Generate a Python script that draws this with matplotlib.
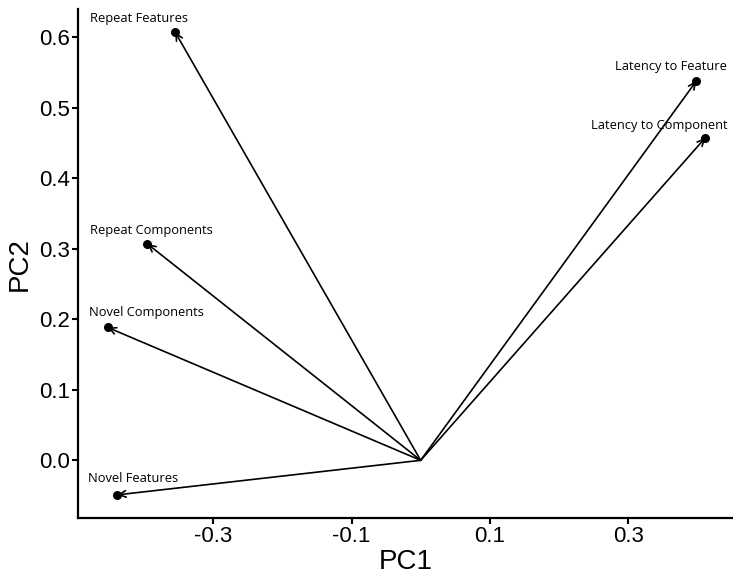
import matplotlib
matplotlib.use('Agg')
import matplotlib.pyplot as plt

# loadings
names = ["Repeat Features", "Latency to Feature", "Latency to Component",
         "Repeat Components", "Novel Components", "Novel Features"]
pc1 = [-0.355, 0.3985, 0.4115, -0.395, -0.4525, -0.4385]
pc2 = [0.6075, 0.538, 0.4575, 0.307, 0.1885, -0.049]

# label offsets in points (dx, dy) from each arrow tip
lab_off = [(-26, 10), (-18.5, 10.5), (-33, 9), (3, 10), (28, 10.5), (11.5, 12)]

fig = plt.figure(figsize=(7.33, 5.77), dpi=100)
ax = fig.add_axes([0.1064, 0.1023, 0.893, 0.8817])

for x, y in zip(pc1, pc2):
    ax.annotate("", xy=(x, y), xytext=(0, 0),
                arrowprops=dict(arrowstyle="->", color="black", lw=1.2,
                                shrinkA=0, shrinkB=0, mutation_scale=12))
ax.scatter(pc1, pc2, s=30, color="black", zorder=3)

for n, x, y, (dx, dy) in zip(names, pc1, pc2, lab_off):
    ax.annotate(n, xy=(x, y), xytext=(dx, dy), textcoords="offset points",
                ha="center", va="center", fontsize=9.3, family="Open Sans")

ax.set_xlim(-0.4955, 0.451)
ax.set_ylim(-0.0818, 0.640)
ax.set_xticks([-0.3, -0.1, 0.1, 0.3])
ax.set_xticklabels(["-0.3", "-0.1", "0.1", "0.3"])
ax.set_yticks([0.0, 0.1, 0.2, 0.3, 0.4, 0.5, 0.6])
ax.set_yticklabels(["0.0", "0.1", "0.2", "0.3", "0.4", "0.5", "0.6"])
ax.tick_params(labelsize=16, width=1.5, length=4, color="black", pad=2)
for t in ax.get_xticklabels() + ax.get_yticklabels():
    t.set_family("Liberation Sans")
ax.spines["top"].set_visible(False)
ax.spines["right"].set_visible(False)
ax.spines["left"].set_linewidth(1.6)
ax.spines["bottom"].set_linewidth(1.6)
ax.set_xlabel("PC1", fontsize=20, family="Liberation Sans", labelpad=1)
ax.set_ylabel("PC2", fontsize=20, family="Liberation Sans", labelpad=4)

plt.savefig("out.png", dpi=100)
